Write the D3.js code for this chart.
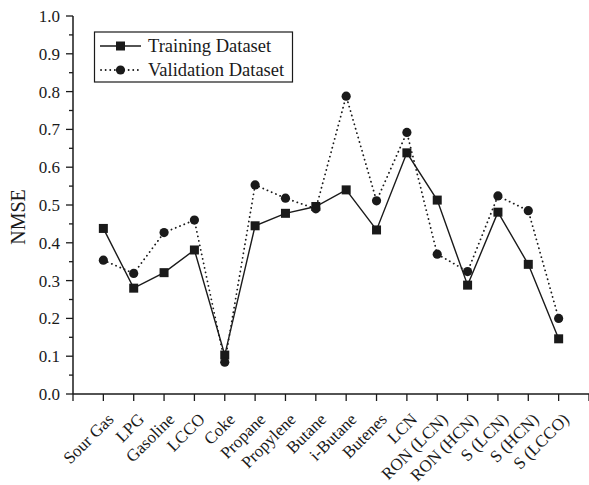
<!DOCTYPE html>
<html><head><meta charset="utf-8">
<script src="https://cdn.jsdelivr.net/npm/d3@7"></script>
<style>body{margin:0;background:#fff}svg{display:block}text{font-family:"Liberation Serif","Times New Roman",serif;fill:#1a1a1a}</style>
</head><body>
<script>
const categories = ["Sour Gas","LPG","Gasoline","LCCO","Coke","Propane","Propylene","Butane","i-Butane","Butenes","LCN","RON (LCN)","RON (HCN)","S (LCN)","S (HCN)","S (LCCO)"];
const training = [0.438,0.280,0.321,0.381,0.103,0.445,0.478,0.496,0.540,0.434,0.638,0.513,0.288,0.481,0.343,0.146];
const validation = [0.354,0.319,0.427,0.460,0.084,0.553,0.518,0.490,0.788,0.511,0.692,0.370,0.324,0.524,0.485,0.200];
const yTicks = [0,0.1,0.2,0.3,0.4,0.5,0.6,0.7,0.8,0.9,1.0];
const seriesNames = ["Training Dataset","Validation Dataset"];

const W=589,H=485;
const svg=d3.select("body").append("svg").attr("width",W).attr("height",H);
const col="#1a1a1a";
const x=d3.scaleLinear().domain([0,categories.length+1]).range([73,589]);
const y=d3.scaleLinear().domain([0,1]).range([394,16]);

// y axis
const gy=svg.append("g").attr("transform","translate(73,0)");
gy.append("line").attr("y1",y(0)).attr("y2",y(1)).attr("stroke",col).attr("stroke-width",1.5);
const minor=d3.range(0.05,1,0.1);
gy.selectAll(".mn").data(minor).join("line").attr("x1",-4).attr("x2",0).attr("y1",d=>y(d)).attr("y2",d=>y(d)).attr("stroke",col).attr("stroke-width",1.3);
gy.selectAll(".mj").data(yTicks).join("line").attr("x1",-7).attr("x2",0).attr("y1",d=>y(d)).attr("y2",d=>y(d)).attr("stroke",col).attr("stroke-width",1.3);
gy.selectAll(".tl").data(yTicks).join("text").attr("x",-13).attr("y",d=>y(d)).attr("dy","0.35em").attr("text-anchor","end").attr("font-size",17).text(d=>d.toFixed(1));
svg.append("text").attr("transform","translate(25,217) rotate(-90)").attr("text-anchor","middle").attr("font-size",20).text("NMSE");

// x axis
const gx=svg.append("g").attr("transform",`translate(0,${y(0)})`);
gx.append("line").attr("x1",73).attr("x2",589).attr("stroke",col).attr("stroke-width",1.5);
gx.selectAll(".xt").data(d3.range(0,categories.length+2)).join("line").attr("x1",d=>x(d)).attr("x2",d=>x(d)).attr("y1",0).attr("y2",7).attr("stroke",col).attr("stroke-width",1.3);
gx.selectAll(".xl").data(categories).join("text")
  .attr("transform",(d,i)=>`translate(${x(i+1)+3},18) rotate(-45)`)
  .attr("text-anchor","end").attr("dy","0.7em").attr("font-size",17).text(d=>d);

// lines
const line=d3.line().x((d,i)=>x(i+1)).y(d=>y(d));
svg.append("path").datum(training).attr("d",line).attr("fill","none").attr("stroke",col).attr("stroke-width",1.4);
svg.append("path").datum(validation).attr("d",line).attr("fill","none").attr("stroke",col).attr("stroke-width",1.8).attr("stroke-dasharray","0.1,4.5").attr("stroke-linecap","round");
svg.selectAll(".sq").data(training).join("rect").attr("x",(d,i)=>x(i+1)-4.5).attr("y",d=>y(d)-4.5).attr("width",9).attr("height",9).attr("fill",col);
svg.selectAll(".ci").data(validation).join("circle").attr("cx",(d,i)=>x(i+1)).attr("cy",d=>y(d)).attr("r",4.6).attr("fill",col);

// legend
const lg=svg.append("g");
lg.append("rect").attr("x",94.5).attr("y",32).attr("width",198).attr("height",50).attr("fill","#fff").attr("stroke",col).attr("stroke-width",1.2);
const rows=[46,70];
lg.append("line").attr("x1",100).attr("x2",141).attr("y1",rows[0]).attr("y2",rows[0]).attr("stroke",col).attr("stroke-width",1.4);
lg.append("rect").attr("x",120.5-4.5).attr("y",rows[0]-4.5).attr("width",9).attr("height",9).attr("fill",col);
lg.append("line").attr("x1",101).attr("x2",141).attr("y1",rows[1]).attr("y2",rows[1]).attr("stroke",col).attr("stroke-width",1.8).attr("stroke-dasharray","0.1,4.5").attr("stroke-linecap","round");
lg.append("circle").attr("cx",120.5).attr("cy",rows[1]).attr("r",4.6).attr("fill",col);
lg.selectAll(".lt").data(seriesNames).join("text").attr("x",148).attr("y",(d,i)=>rows[i]).attr("dy","0.35em").attr("font-size",18.5).text(d=>d);
</script>
</body></html>
